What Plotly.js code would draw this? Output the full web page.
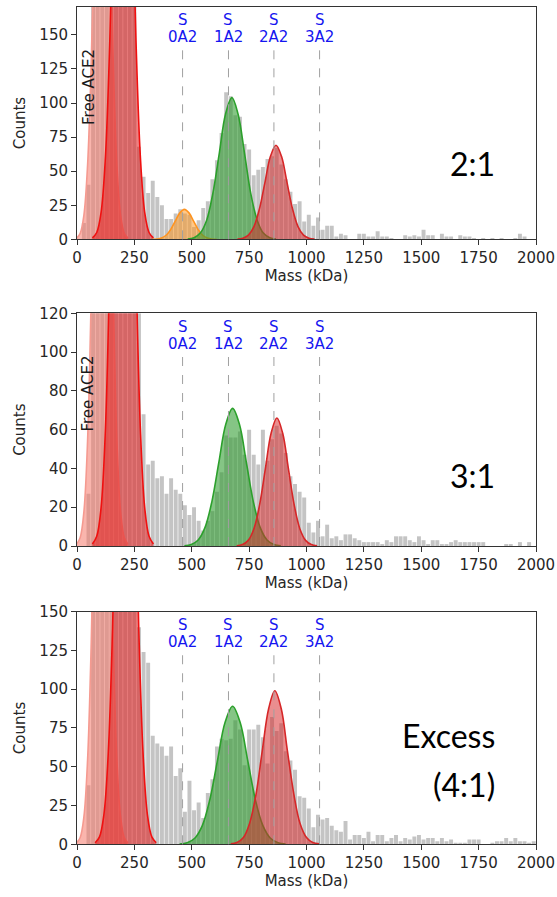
<!DOCTYPE html>
<html>
<head>
<meta charset="utf-8">
<script src="https://cdn.plot.ly/plotly-3.0.1.min.js"></script>
<style>html,body{margin:0;padding:0;background:#fff;}#chart{width:557px;height:897px;}</style>
</head>
<body>
<div id="chart"></div>
<script>
// ---------- DATA ----------
const massBins = [10,30,50,70,90,110,130,150,170,190,
  210,230,250,270,290,310,330,350,370,390,
  410,430,450,470,490,510,530,550,570,590,
  610,630,650,670,690,710,730,750,770,790,
  810,830,850,870,890,910,930,950,970,990,
  1010,1030,1050,1070,1090,1110,1130,1150,1170,1190,
  1210,1230,1250,1270,1290,1310,1330,1350,1370,1390,
  1410,1430,1450,1470,1490,1510,1530,1550,1570,1590,
  1610,1630,1650,1670,1690,1710,1730,1750,1770,1790,
  1810,1830,1850,1870,1890,1910,1930,1950,1970,1990];

const counts21 = [0,12,40,230,330,400,380,340,380,430,
  440,360,230,68,46,34,43,31,25,15,
  15,19,22,19,18,9,14,23,28,44,
  58,78,108,105,91,90,70,66,47,51,
  53,59,61,67,55,44,35,26,28,13,
  18,10,16,7,10,10,2,4,3,0,
  0,4,4,2,2,6,2,2,1,0,
  0,3,2,3,2,7,3,3,0,4,
  2,2,0,3,2,2,1,0,1,0,
  1,0,1,0,0,1,4,2,0,0];

const counts31 = [0,0,27,230,320,390,370,330,380,420,
  430,350,220,120,68,42,44,35,36,27,
  35,29,27,21,16,20,13,8,13,18,
  28,38,57,56,56,59,47,60,47,42,
  60,44,55,62,58,48,36,32,28,25,
  12,7,13,5,11,4,5,3,6,6,
  4,3,2,2,2,2,1,3,2,5,
  5,5,3,2,5,3,1,3,3,1,
  1,2,3,2,2,2,2,2,2,0,
  0,0,0,1,1,0,2,0,2,0];

const counts41 = [0,0,38,250,350,420,400,360,400,440,
  450,380,260,140,124,117,70,65,63,57,
  63,44,49,21,41,22,27,17,33,42,
  63,68,67,68,80,74,51,74,74,77,
  69,52,82,73,78,60,54,48,31,30,
  23,11,19,16,17,12,9,8,15,3,
  6,6,4,8,2,6,6,2,4,6,
  2,4,3,5,6,3,4,4,2,4,
  2,3,1,1,1,3,3,3,0,0,
  1,2,2,4,2,4,2,2,1,2];

// Gaussian fit curves (at sample points)
const freeAce2X = [-2,14,30,46,62,78,94,110,126,142,158,174,190,206,222];
const freeAce2Y = [0.9,4.4,17.6,54.1,129.9,242.6,353,400,353,242.6,129.9,54.1,17.6,4.4,0.9];

const dimer21X = [67,86,105,124,143,162,181,200,219,238,257,276,295,314,333];
const dimer21Y = [1.0,5.0,19.8,60.9,146.1,272.9,397.1,450,397.1,272.9,146.1,60.9,19.8,5.0,1.0];
const s0a2X = [328,348,368,388,408,428,448,468,488,508,528,548,568,588,608];
const s0a2Y = [0.05,0.24,0.97,2.98,7.14,13.34,19.42,22,19.42,13.34,7.14,2.98,0.97,0.24,0.05];
const s1a2_21X = [482,510,537,565,592,620,647,675,702,730,757,785,812,840,867];
const s1a2_21Y = [0.23,1.15,4.57,14.07,33.77,63.08,91.78,104,91.78,63.08,33.77,14.07,4.57,1.15,0.23];
const s2a2_21X = [699,723,747,771,795,819,843,867,891,915,939,963,987,1011,1035];
const s2a2_21Y = [0.15,0.77,3.03,9.34,22.40,41.85,60.89,69,60.89,41.85,22.40,9.34,3.03,0.77,0.15];

const dimer31X = [67,86,105,124,143,162,181,200,219,238,257,276,295,314,333];
const dimer31Y = [1.0,5.0,19.8,60.9,146.1,272.9,397.1,450,397.1,272.9,146.1,60.9,19.8,5.0,1.0];
const s1a2_31X = [468,498,528,558,588,618,648,678,708,738,768,798,828,858,888];
const s1a2_31Y = [0.16,0.79,3.12,9.61,23.05,43.06,62.66,71,62.66,43.06,23.05,9.61,3.12,0.79,0.16];
const s2a2_31X = [696,721,746,771,796,821,846,871,896,921,946,971,996,1021,1046];
const s2a2_31Y = [0.15,0.73,2.90,8.93,21.43,40.03,58.24,66,58.24,40.03,21.43,8.93,2.90,0.73,0.15];

const dimer41X = [79,98,117,136,155,174,193,212,231,250,269,288,307,326,345];
const dimer41Y = [0.95,4.77,18.88,58.18,139.6,260.8,379.5,430,379.5,260.8,139.6,58.18,18.88,4.77,0.95];
const s1a2_41X = [447,480,513,546,579,612,645,678,711,744,777,810,843,876,909];
const s1a2_41Y = [0.20,0.99,3.91,12.04,28.90,53.98,78.54,89,78.54,53.98,28.90,12.04,3.91,0.99,0.20];
const s2a2_41X = [670,697,725,752,780,807,835,862,890,917,945,972,1000,1027,1055];
const s2a2_41Y = [0.22,1.10,4.35,13.39,32.15,60.04,87.37,99,87.37,60.04,32.15,13.39,4.35,1.10,0.22];

const complexLabels = ['0A2','1A2','2A2','3A2'];
const complexMass = [460, 660, 858, 1057];
const xTicks = [0,250,500,750,1000,1250,1500,1750,2000];
const yTicks1 = [0,25,50,75,100,125,150];
const yTicks2 = [0,20,40,60,80,100,120];
const yTicks3 = [0,25,50,75,100,125,150];
const ratioLabels = ['2:1','3:1','Excess','(4:1)'];

// ---------- STYLE ----------
const FONT = 'DejaVu Sans, sans-serif';
const barColor = '#c4c4c4';
const styles = {
  free:  {line:'#f59a90', fill:'rgba(246,120,106,0.55)'},
  dimer: {line:'#f01010', fill:'rgba(225,25,25,0.55)'},
  s0:    {line:'#ff9420', fill:'rgba(255,145,20,0.5)'},
  s1:    {line:'#2ca02c', fill:'rgba(44,155,44,0.58)'},
  s2:    {line:'#d62728', fill:'rgba(214,39,40,0.52)'}
};

function curve(x, y, st, ax) {
  return {type:'scatter', mode:'lines', x:x, y:y, xaxis:'x'+ax, yaxis:'y'+ax,
    line:{color:st.line, width:1.6, shape:'spline', smoothing:1},
    fill:'tozeroy', fillcolor:st.fill, hoverinfo:'skip', showlegend:false};
}
function bars(y, ax) {
  return {type:'bar', x:massBins, y:y, xaxis:'x'+ax, yaxis:'y'+ax,
    marker:{color:barColor, line:{width:0}}, hoverinfo:'skip', showlegend:false};
}

const traces = [
  bars(counts21, ''),
  curve(freeAce2X, freeAce2Y, styles.free, ''),
  curve(dimer21X, dimer21Y, styles.dimer, ''),
  curve(s0a2X, s0a2Y, styles.s0, ''),
  curve(s1a2_21X, s1a2_21Y, styles.s1, ''),
  curve(s2a2_21X, s2a2_21Y, styles.s2, ''),

  bars(counts31, '2'),
  curve(freeAce2X, freeAce2Y, styles.free, '2'),
  curve(dimer31X, dimer31Y, styles.dimer, '2'),
  curve(s1a2_31X, s1a2_31Y, styles.s1, '2'),
  curve(s2a2_31X, s2a2_31Y, styles.s2, '2'),

  bars(counts41, '3'),
  curve(freeAce2X, freeAce2Y, styles.free, '3'),
  curve(dimer41X, dimer41Y, styles.dimer, '3'),
  curve(s1a2_41X, s1a2_41Y, styles.s1, '3'),
  curve(s2a2_41X, s2a2_41Y, styles.s2, '3')
];

function xAxis(anchor) {
  return {anchor:anchor, domain:[0,1], range:[0,2000], tickvals:xTicks,
    ticks:'outside', ticklen:5, tickwidth:1, tickcolor:'#333',
    showline:true, linecolor:'#333', linewidth:1, mirror:true,
    showgrid:false, zeroline:false,
    tickfont:{family:FONT, size:15, color:'#262626'},
    title:{text:'Mass (kDa)', font:{family:FONT, size:15, color:'#262626'}, standoff:4}};
}
function yAxis(anchor, dom, range, ticks) {
  return {anchor:anchor, domain:dom, range:range, tickvals:ticks,
    ticks:'outside', ticklen:5, tickwidth:1, tickcolor:'#333',
    showline:true, linecolor:'#333', linewidth:1, mirror:true,
    showgrid:false, zeroline:false,
    tickfont:{family:FONT, size:15, color:'#262626'},
    title:{text:'Counts', font:{family:FONT, size:15, color:'#262626'}, standoff:10}};
}

const shapes = [];
const annotations = [];
['', '2', '3'].forEach(function(s) {
  complexMass.forEach(function(m, i) {
    shapes.push({type:'line', xref:'x'+s, yref:'y'+s+' domain', x0:m, x1:m, y0:0, y1:0.83,
      line:{color:'#a0a0a0', width:1, dash:'dash'}, layer:'above'});
    annotations.push({xref:'x'+s, yref:'y'+s+' domain', x:m, y:0.943, text:'S',
      showarrow:false, xanchor:'center', yanchor:'middle', font:{family:FONT, size:15, color:'#1515f0'}});
    annotations.push({xref:'x'+s, yref:'y'+s+' domain', x:m, y:0.868, text:complexLabels[i],
      showarrow:false, xanchor:'center', yanchor:'middle', font:{family:FONT, size:15, color:'#1515f0'}});
  });
});
['', '2'].forEach(function(s) {
  annotations.push({xref:'x'+s, yref:'y'+s+' domain', x:49, y:0.656, text:'Free ACE2',
    textangle:-90, showarrow:false, xanchor:'center', yanchor:'middle',
    font:{family:FONT, size:15, color:'#1a1a1a'}});
});
const ratioY = [0.818, 0.4695, 0.1795, 0.1255];
ratioLabels.forEach(function(t, i) {
  annotations.push({xref:'paper', yref:'paper', x:0.915, y:ratioY[i], text:t,
    showarrow:false, xanchor:'right', yanchor:'middle',
    font:{family:'Lato, sans-serif', size:32, color:'#000'}});
});

const layout = {
  width:557, height:897,
  margin:{l:77, r:21, t:0, b:0, pad:0},
  paper_bgcolor:'#fff', plot_bgcolor:'#fff',
  bargap:0.14, showlegend:false, hovermode:false,
  xaxis: xAxis('y'), yaxis: yAxis('x', [0.7332, 0.9925], [0, 170.7], yTicks1),
  xaxis2: xAxis('y2'), yaxis2: yAxis('x2', [0.3913, 0.6507], [0, 120], yTicks2),
  xaxis3: xAxis('y3'), yaxis3: yAxis('x3', [0.0588, 0.3181], [0, 150], yTicks3),
  shapes: shapes, annotations: annotations
};

Plotly.newPlot('chart', traces, layout, {staticPlot:true, displayModeBar:false});
</script>
</body>
</html>
